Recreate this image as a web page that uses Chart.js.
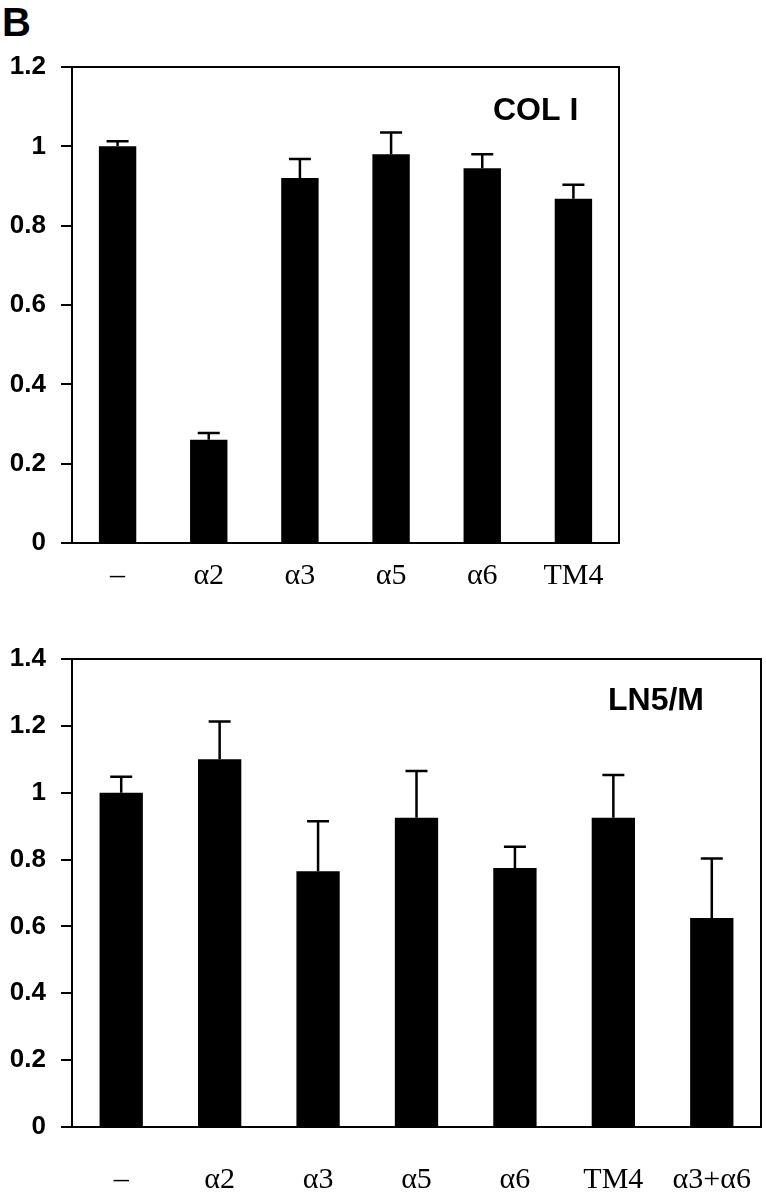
<!DOCTYPE html>
<html>
<head>
<meta charset="utf-8">
<script src="https://cdn.jsdelivr.net/npm/chart.js@4"></script>
<style>
  html, body { margin: 0; padding: 0; background: #fff; }
  body { width: 766px; height: 1199px; position: relative; overflow: hidden; }
  .wrap { position: absolute; left: 0; width: 766px; }
  #panel { position: absolute; left: 2px; top: 0px; font: bold 40px "Liberation Sans", Arial, sans-serif; color: #000; line-height: 44px; }
</style>
</head>
<body>
<div id="panel">B</div>
<div class="wrap" style="top:0;height:600px"><canvas id="colChart" width="766" height="600"></canvas></div>
<div class="wrap" style="top:600px;height:599px"><canvas id="lnChart" width="766" height="599"></canvas></div>
<script>
// top panel - COL I
const colLabels = ['–', 'α2', 'α3', 'α5', 'α6', 'TM4'];
const colValues = [1.0, 0.26, 0.92, 0.98, 0.945, 0.868];
const colErr = [0.013, 0.017, 0.048, 0.055, 0.035, 0.035];
const colTicks = [0, 0.2, 0.4, 0.6, 0.8, 1, 1.2];

// bottom panel - LN5/M
const lnLabels = ['–', 'α2', 'α3', 'α5', 'α6', 'TM4', 'α3+α6'];
const lnValues = [1.0, 1.10, 0.765, 0.925, 0.775, 0.925, 0.625];
const lnErr = [0.048, 0.113, 0.15, 0.14, 0.063, 0.128, 0.178];
const lnTicks = [0, 0.2, 0.4, 0.6, 0.8, 1, 1.2, 1.4];

const sans = '"Liberation Sans", Arial, sans-serif';
const serif = '"Liberation Serif", "Times New Roman", serif';

// draws the frame, the upward error bars and the panel title
const extras = {
  id: 'extras',
  afterDatasetsDraw(chart, args, opts) {
    const { ctx, chartArea: a, scales } = chart;
    const y = scales.y;
    const meta = chart.getDatasetMeta(0);
    ctx.save();
    ctx.strokeStyle = '#000';
    ctx.lineWidth = 2.5;
    meta.data.forEach((bar, i) => {
      const v = chart.data.datasets[0].data[i];
      const yTop = y.getPixelForValue(v);
      const yErr = y.getPixelForValue(v + opts.err[i]);
      ctx.beginPath();
      ctx.moveTo(bar.x, yTop);
      ctx.lineTo(bar.x, yErr);
      ctx.moveTo(bar.x - 11, yErr);
      ctx.lineTo(bar.x + 11, yErr);
      ctx.stroke();
    });
    // frame: top and right
    ctx.lineWidth = 2;
    ctx.beginPath();
    ctx.moveTo(a.left - 11, a.top);
    ctx.lineTo(a.right, a.top);
    ctx.lineTo(a.right, a.bottom);
    ctx.moveTo(a.left - 11, a.bottom);
    ctx.lineTo(a.left, a.bottom);
    ctx.stroke();
    // title
    ctx.fillStyle = '#000';
    ctx.font = 'bold 32px ' + sans;
    ctx.textAlign = 'left';
    ctx.textBaseline = 'alphabetic';
    ctx.fillText(opts.title, opts.titleX, opts.titleY);
    ctx.restore();
  }
};

function makeChart(id, labels, values, err, ticks, cfg) {
  const ctx = document.getElementById(id).getContext('2d');
  return new Chart(ctx, {
    type: 'bar',
    data: {
      labels: labels,
      datasets: [{
        data: values,
        backgroundColor: '#000',
        borderWidth: 0,
        categoryPercentage: 1,
        barPercentage: cfg.barPct
      }]
    },
    options: {
      responsive: false,
      animation: false,
      layout: { padding: cfg.padding },
      plugins: {
        legend: { display: false },
        tooltip: { enabled: false },
        extras: { err: err, title: cfg.title, titleX: cfg.titleX, titleY: cfg.titleY }
      },
      scales: {
        x: {
          grid: { display: false },
          border: { display: true, color: '#000', width: 2 },
          ticks: { color: '#000', font: { family: serif, size: 30 }, padding: cfg.xPad, maxRotation: 0, autoSkip: false },
          afterFit: s => { s.height = cfg.xHeight; s.paddingLeft = 0; s.paddingRight = 0; }
        },
        y: {
          min: 0,
          max: ticks[ticks.length - 1],
          afterBuildTicks: s => { s.ticks = ticks.map(v => ({ value: v })); },
          grid: { drawOnChartArea: false, drawTicks: true, tickLength: 11, color: '#000', lineWidth: 2 },
          border: { display: true, color: '#000', width: 2 },
          ticks: {
            color: '#000',
            font: { family: sans, size: 26, weight: 'bold' },
            padding: 15,
            callback: v => String(+v.toFixed(1))
          },
          afterFit: s => { s.width = 72; }
        }
      }
    },
    plugins: [extras]
  });
}

makeChart('colChart', colLabels, colValues, colErr, colTicks, {
  barPct: 0.41,
  padding: { left: 0, right: 147, top: 67, bottom: 0 },
  xHeight: 57,
  xPad: 7,
  title: 'COL I', titleX: 493, titleY: 120
});

makeChart('lnChart', lnLabels, lnValues, lnErr, lnTicks, {
  barPct: 0.44,
  padding: { left: 0, right: 5, top: 59, bottom: 0 },
  xHeight: 72,
  xPad: 27,
  title: 'LN5/M', titleX: 608, titleY: 110
});
</script>
</body>
</html>
